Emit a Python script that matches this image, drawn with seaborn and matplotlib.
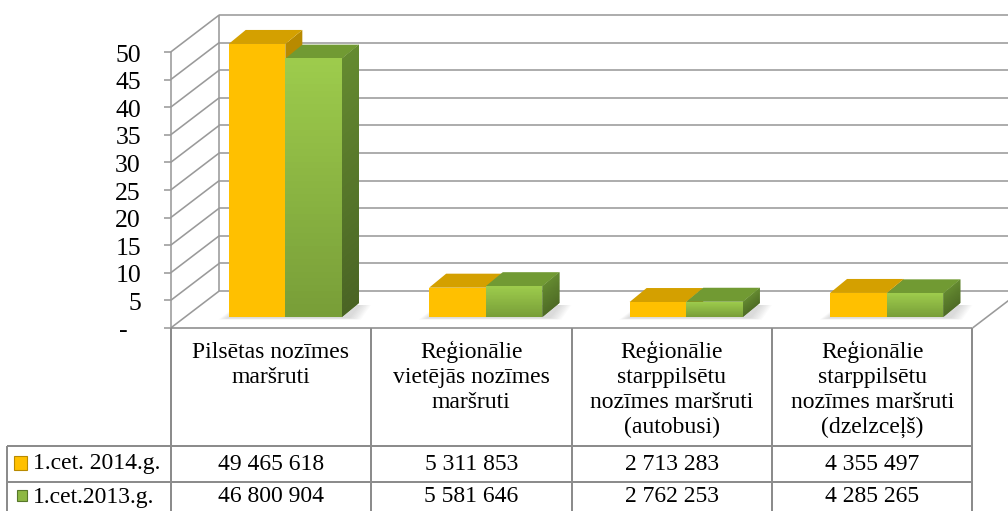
import numpy as np
import pandas as pd
import matplotlib
matplotlib.use("Agg")
import matplotlib.pyplot as plt
import seaborn as sns
from matplotlib.patches import Polygon, Rectangle
from matplotlib.lines import Line2D
from matplotlib.transforms import ScaledTranslation

# ---------------- data ----------------
categories = [
    "Pilsētas nozīmes\nmaršruti",
    "Reģionālie\nvietējās nozīmes\nmaršruti",
    "Reģionālie\nstarppilsētu\nnozīmes maršruti\n(autobusi)",
    "Reģionālie\nstarppilsētu\nnozīmes maršruti\n(dzelzceļš)",
]
series_names = ["1.cet. 2014.g.", "1.cet.2013.g."]
values_2014 = [49465618, 5311853, 2713283, 4355497]
values_2013 = [46800904, 5581646, 2762253, 4285265]
tick_values = [0, 5, 10, 15, 20, 25, 30, 35, 40, 45, 50]
tick_labels = ["-", "5", "10", "15", "20", "25", "30", "35", "40", "45", "50"]

# ---------------- style ----------------
ORANGE = "#FFC000"
ORANGE_TOP = "#D4A000"
ORANGE_SIDE = "#B88A00"
GREEN_TOP_C = "#9DCB4C"
GREEN_BOT_C = "#789E38"
GREEN_TOPFACE = "#719A33"
GREEN_SIDE_TOP = "#648A30"
GREEN_SIDE_BOT = "#4A6424"
GRID = "#9A9A9A"
TABLE = "#8C8C8C"
FS = 17

sns.set_theme(style="white")
plt.rcParams["font.family"] = ["Liberation Serif", "DejaVu Serif"]

W, H = 1008, 511
fig = plt.figure(figsize=(W / 100, H / 100), dpi=100)

# overlay axes in pixel coordinates (y down) for walls, table, labels
ov = fig.add_axes([0, 0, 1, 1], zorder=0)
ov.set_xlim(0, W)
ov.set_ylim(H, 0)
ov.axis("off")

# front plane of the chart
xL_px, xR_px, yTop_px, yBot_px = 170.7, 972.5, 52.0, 328.0
ax = fig.add_axes([xL_px / W, 1 - yBot_px / H, (xR_px - xL_px) / W, (yBot_px - yTop_px) / H], zorder=1)
ax.patch.set_alpha(0)

df = pd.DataFrame({
    "cat": categories * 2,
    "series": [series_names[0]] * 4 + [series_names[1]] * 4,
    "val": [v / 1e6 for v in values_2014] + [v / 1e6 for v in values_2013],
})
sns.barplot(data=df, x="cat", y="val", hue="series", order=categories,
            hue_order=series_names, palette=[ORANGE, GREEN_BOT_C], width=0.565,
            errorbar=None, legend=False, saturation=1, ax=ax, linewidth=0)
ax.set_xlim(-0.5, 3.5)
ax.set_ylim(0, 50)
ax.axis("off")


def P(x, v):
    d = ax.transData.transform((x, v))
    return d[0], H - d[1]


# depth offsets (pixels, y down)
BX, BY = 48.5, -37.0          # back wall
OX, OY = 14.4, -11.0          # bar front face plane
DX, DY = 17.0, -14.0          # bar depth

lw_grid = 1.6 * 0.72
xL, y0 = P(-0.5, 0)
xR, _ = P(3.5, 0)


def line(xs, ys, color=GRID, lw=lw_grid, z=0.5):
    ov.add_line(Line2D(xs, ys, color=color, lw=lw, zorder=z, solid_capstyle="butt"))


# back wall grid lines and left wall diagonals
for v in tick_values:
    _, yv = P(0, v)
    line([xL + BX, xR + BX], [yv + BY, yv + BY])
    line([xL, xL + BX], [yv, yv + BY])
    line([xL - 7, xL], [yv, yv])
_, y50 = P(0, 50)
line([xL + BX, xL + BX], [y0 + BY, y50 + BY])
line([xL, xL], [y50, y0])
# floor
line([xL, xR], [y0, y0], color=TABLE)
line([xR, xR + BX], [y0, y0 + BY])

# tick labels
for v, lab in zip(tick_values, tick_labels):
    _, yv = P(0, v)
    xt = 141 if lab != "-" else 128
    ov.text(xt, yv + 3.5, lab, ha="right", va="center", fontsize=FS + 1.5, color="black")

# ---------------- bars ----------------
off = ScaledTranslation(OX / 100, -OY / 100, fig.dpi_scale_trans)
conts = ax.containers
face_cols = [(ORANGE_TOP, ORANGE_SIDE), (GREEN_TOPFACE, GREEN_SIDE_TOP)]

# soft shadows on floor
for i in range(len(categories)):
    p0 = conts[0].patches[i]
    p1 = conts[1].patches[i]
    xa, yb = P(p0.get_x(), 0)
    xb, _ = P(p1.get_x() + p1.get_width(), 0)
    xa += OX; xb += OX; yb += OY
    for e in range(1, 9):
        poly = [(xa - e * 1.3, yb + 1 + e * 0.2), (xb + DX * 0.4 + e * 1.5, yb + 1 + e * 0.2),
                (xb + DX + e * 1.5, yb + DY + 2), (xa + DX - e, yb + DY + 2)]
        ov.add_patch(Polygon(poly, closed=True, facecolor="#707070", alpha=0.03,
                             edgecolor="none", zorder=0.8))

gmap = matplotlib.colors.LinearSegmentedColormap.from_list("g", [GREEN_BOT_C, GREEN_TOP_C])
smap = matplotlib.colors.LinearSegmentedColormap.from_list("s", [GREEN_SIDE_BOT, GREEN_SIDE_TOP])

for si, cont in enumerate(conts):
    top_c, side_c = face_cols[si]
    zb = 2 + si * 2
    for p in cont.patches:
        x, w, h = p.get_x(), p.get_width(), p.get_height()
        p.set_transform(ax.transData + off)
        p.set_zorder(zb + 1)
        p.set_clip_on(False)
        xa, ya = P(x, 0)
        xb, yt = P(x + w, h)
        xa += OX; xb += OX; ya += OY; yt += OY
        side = [(xb, ya), (xb + DX, ya + DY), (xb + DX, yt + DY), (xb, yt)]
        top = [(xa, yt), (xb, yt), (xb + DX, yt + DY), (xa + DX, yt + DY)]
        ax.add_patch(Polygon(side, closed=True, facecolor=side_c, edgecolor="none",
                             transform=ov.transData, clip_on=False, zorder=zb))
        ax.add_patch(Polygon(top, closed=True, facecolor=top_c, edgecolor="none",
                             transform=ov.transData, clip_on=False, zorder=zb))
        if si == 1:
            n = 40
            for k in range(n):
                ax.add_patch(Rectangle((x, h * k / n), w, h / n + h * 0.002,
                                       facecolor=gmap(k / (n - 1)), edgecolor="none",
                                       transform=ax.transData + off, clip_on=False,
                                       zorder=zb + 1.1))
                f0 = k / n
                f1 = (k + 1) / n + 0.002
                ys0 = ya + (yt - ya) * f0
                ys1 = ya + (yt - ya) * min(f1, 1)
                strip = [(xb, ys0), (xb + DX, ys0 + DY), (xb + DX, ys1 + DY), (xb, ys1)]
                ax.add_patch(Polygon(strip, closed=True, facecolor=smap(k / (n - 1)),
                                     edgecolor="none", transform=ov.transData,
                                     clip_on=False, zorder=zb + 0.05))

# ---------------- data table ----------------
col_edges = [P(i - 0.5, 0)[0] for i in range(len(categories) + 1)]
row_y = [446, 482]
for xe in col_edges[1:]:
    line([xe, xe], [y0, H], color=TABLE, lw=2 * 0.72, z=3)
line([col_edges[0], col_edges[0]], [y0, H], color=TABLE, lw=2 * 0.72, z=3)
for ry in row_y:
    line([7, xR], [ry, ry], color=TABLE, lw=2 * 0.72, z=3)
line([7, 7], [row_y[0], H], color=TABLE, lw=2 * 0.72, z=3)

for i, cat in enumerate(categories):
    cx = (col_edges[i] + col_edges[i + 1]) / 2
    for j, ln in enumerate(cat.split("\n")):
        ov.text(cx, 358 + 25 * j, ln, ha="center", va="baseline", fontsize=FS, color="black")


def fmt(v):
    return f"{v:,}".replace(",", " ")


row_centers = [464, 497]
for r, vals in enumerate([values_2014, values_2013]):
    for i, v in enumerate(vals):
        cx = (col_edges[i] + col_edges[i + 1]) / 2
        ov.text(cx, row_centers[r], fmt(v), ha="center", va="center", fontsize=FS, color="black")

# legend keys in table
ov.add_patch(Rectangle((14, 456), 13, 14, facecolor=ORANGE, edgecolor="#B88A00", lw=0.8, zorder=3))
ov.add_patch(Rectangle((17, 490), 10, 11, facecolor="#8DB843", edgecolor="#57772A", lw=0.8, zorder=3))
ov.text(33, row_centers[0], series_names[0], ha="left", va="center", fontsize=FS, color="black")
ov.text(33, row_centers[1], series_names[1], ha="left", va="center", fontsize=FS, color="black")

fig.savefig("out.png", dpi=100)
